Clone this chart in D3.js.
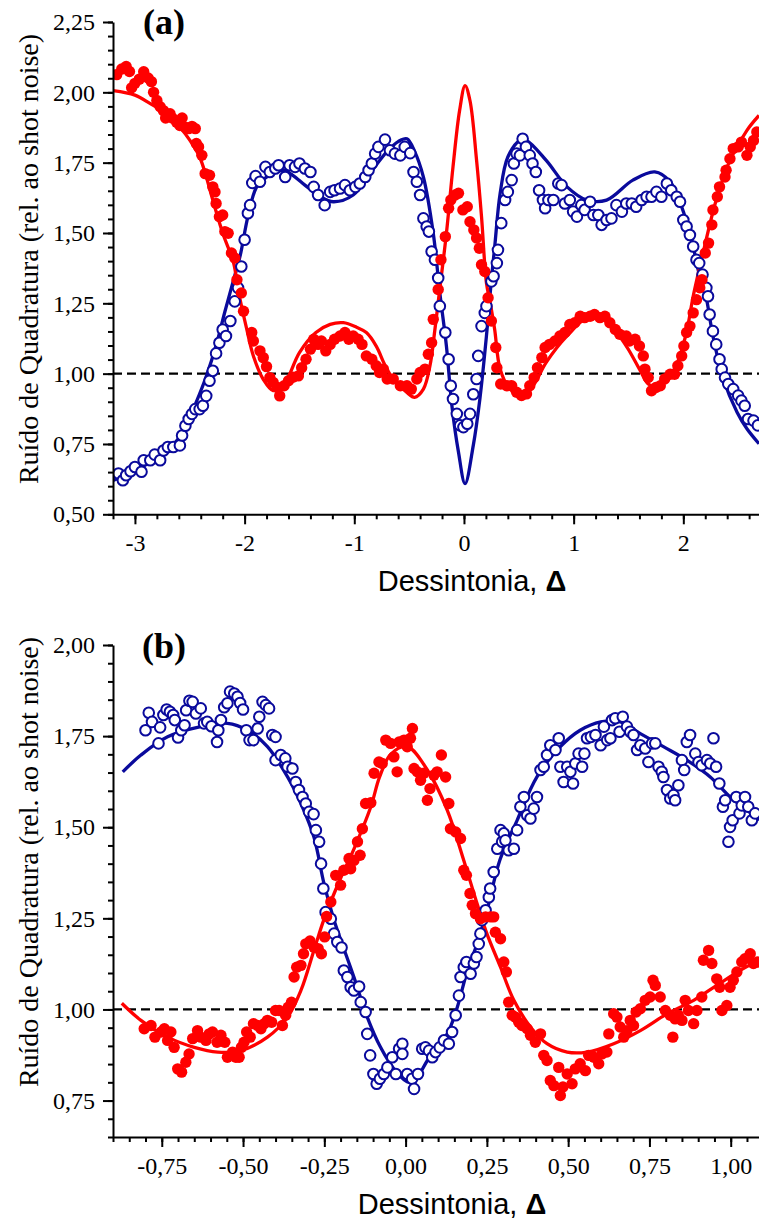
<!DOCTYPE html>
<html>
<head>
<meta charset="utf-8">
<script src="https://cdn.jsdelivr.net/npm/d3@7"></script>
<style>
  body { margin: 0; background: #fff; }
  svg { display: block; }
  .serif { font-family: "Liberation Serif", "Times New Roman", "DejaVu Serif", serif; }
  .sans { font-family: "Liberation Sans", Arial, "DejaVu Sans", sans-serif; }
</style>
</head>
<body>
<svg id="chart" width="759" height="1220"></svg>
<script>
// ---------- Panel (a): measured points [detuning, noise] ----------
const aRedPts = [
  [-3.166,2.063],[-3.12,2.083],[-3.08,2.092],[-3.05,2.074],[-3.03,2.016],[-3.00,2.032],[-2.96,2.047],[-2.92,2.073],
  [-2.88,2.051],[-2.85,2.038],[-2.83,2.0],[-2.80,1.971],[-2.77,1.949],[-2.74,1.935],[-2.72,1.909],[-2.68,1.924],
  [-2.66,1.909],[-2.62,1.894],[-2.59,1.882],[-2.57,1.909],[-2.54,1.876],[-2.51,1.871],[-2.48,1.879],[-2.45,1.871],
  [-2.44,1.818],[-2.42,1.806],[-2.39,1.776],[-2.36,1.711],[-2.32,1.705],[-2.29,1.664],[-2.27,1.646],[-2.26,1.605],
  [-2.23,1.558],[-2.20,1.564],[-2.18,1.505],[-2.15,1.499],[-2.12,1.429],[-2.09,1.411],[-2.07,1.334],[-2.03,1.287],
  [-2.01,1.222],[-1.935,1.146],[-1.92,1.116],[-1.86,1.081],[-1.83,1.057],[-1.80,1.025],[-1.77,0.986],[-1.74,0.969],
  [-1.70,0.951],[-1.68,0.921],[-1.64,0.957],[-1.60,0.975],[-1.56,0.987],[-1.51,0.992],[-1.48,1.021],[-1.44,1.051],
  [-1.40,1.087],[-1.37,1.122],[-1.33,1.104],[-1.30,1.116],[-1.26,1.081],[-1.22,1.104],[-1.18,1.122],[-1.13,1.134],
  [-1.085,1.146],[-1.05,1.122],[-1.01,1.134],[-0.965,1.122],[-0.93,1.104],[-0.89,1.063],[-0.84,1.051],[-0.80,1.028],
  [-0.77,1.004],[-0.735,1.016],[-0.70,0.981],[-0.645,0.981],[-0.58,0.957],[-0.52,0.957],[-0.48,0.945],[-0.43,0.981],
  [-0.40,1.004],[-0.355,1.016],[-0.325,1.069],[-0.295,1.110],[-0.28,1.193],[-0.235,1.299],[-0.21,1.405],[-0.17,1.487],
  [-0.14,1.588],[-0.12,1.617],[-0.08,1.635],[-0.05,1.641],[-0.01,1.582],[0.03,1.593],[0.055,1.540],[0.09,1.511],
  [0.115,1.482],[0.14,1.446],[0.16,1.387],[0.19,1.363],[0.22,1.270],[0.25,1.187],[0.29,1.093],[0.30,1.021],
  [0.335,0.963],[0.39,0.957],[0.435,0.957],[0.48,0.934],[0.525,0.922],[0.57,0.928],[0.60,0.957],[0.64,0.986],
  [0.67,1.021],[0.71,1.057],[0.74,1.093],[0.78,1.104],[0.83,1.116],[0.875,1.134],[0.92,1.146],[0.965,1.175],
  [1.01,1.181],[1.06,1.204],[1.10,1.199],[1.15,1.204],[1.19,1.21],[1.24,1.199],[1.285,1.204],[1.33,1.181],
  [1.38,1.157],[1.42,1.140],[1.48,1.134],[1.51,1.116],[1.56,1.122],[1.60,1.098],[1.635,1.063],[1.65,1.016],
  [1.68,0.986],[1.71,0.939],[1.75,0.951],[1.79,0.957],[1.83,0.981],[1.88,0.998],[1.92,0.998],[1.95,1.028],
  [1.985,1.063],[2.005,1.098],[2.03,1.146],[2.06,1.169],[2.09,1.216],[2.12,1.263],[2.15,1.305],[2.17,1.334],
  [2.20,1.429],[2.23,1.464],[2.26,1.529],[2.27,1.582],[2.31,1.629],[2.33,1.664],[2.38,1.699],[2.39,1.723],
  [2.425,1.764],[2.455,1.800],[2.50,1.806],[2.53,1.823],[2.58,1.776],[2.61,1.806],[2.64,1.829],[2.67,1.859]
];
const aBluePts = [
  [-3.15,0.645],[-3.11,0.621],[-3.08,0.639],[-3.04,0.653],[-3.00,0.668],[-2.94,0.651],[-2.92,0.692],[-2.86,0.692],
  [-2.82,0.712],[-2.77,0.692],[-2.74,0.727],[-2.70,0.739],[-2.65,0.739],[-2.59,0.745],[-2.57,0.780],[-2.54,0.815],
  [-2.51,0.839],[-2.48,0.857],[-2.45,0.874],[-2.41,0.874],[-2.38,0.886],[-2.35,0.921],[-2.32,0.975],[-2.29,1.010],
  [-2.26,1.072],[-2.23,1.110],[-2.20,1.157],[-2.17,1.134],[-2.13,1.187],[-2.09,1.257],[-2.06,1.305],[-2.03,1.381],
  [-2.00,1.476],[-1.97,1.570],[-1.95,1.599],[-1.93,1.678],[-1.90,1.702],[-1.86,1.682],[-1.81,1.735],[-1.77,1.717],
  [-1.72,1.729],[-1.69,1.741],[-1.63,1.699],[-1.59,1.741],[-1.54,1.735],[-1.50,1.747],[-1.45,1.729],[-1.40,1.717],
  [-1.37,1.664],[-1.33,1.635],[-1.27,1.599],[-1.22,1.646],[-1.18,1.652],[-1.13,1.658],[-1.085,1.670],[-1.04,1.652],
  [-0.99,1.664],[-0.95,1.676],[-0.90,1.699],[-0.87,1.723],[-0.84,1.747],[-0.81,1.782],[-0.78,1.806],[-0.72,1.832],
  [-0.675,1.794],[-0.63,1.782],[-0.58,1.776],[-0.54,1.806],[-0.49,1.784],[-0.46,1.717],[-0.43,1.682],[-0.40,1.635],
  [-0.37,1.552],[-0.34,1.523],[-0.32,1.505],[-0.295,1.434],[-0.265,1.405],[-0.235,1.340],[-0.22,1.240],[-0.17,1.146],
  [-0.14,1.051],[-0.12,0.957],[-0.10,0.910],[-0.065,0.857],[-0.035,0.816],[-0.005,0.810],[0.03,0.822],[0.055,0.857],
  [0.085,0.927],[0.115,0.981],[0.13,1.063],[0.16,1.169],[0.19,1.216],[0.205,1.240],[0.25,1.328],[0.27,1.346],
  [0.30,1.393],[0.31,1.440],[0.34,1.535],[0.375,1.617],[0.40,1.646],[0.435,1.688],[0.455,1.747],[0.48,1.782],
  [0.51,1.776],[0.535,1.835],[0.565,1.806],[0.60,1.776],[0.625,1.747],[0.655,1.717],[0.685,1.652],[0.72,1.617],
  [0.74,1.588],[0.77,1.617],[0.815,1.617],[0.86,1.676],[0.89,1.670],[0.92,1.605],[0.965,1.617],[0.995,1.576],
  [1.03,1.558],[1.07,1.599],[1.10,1.582],[1.15,1.611],[1.18,1.564],[1.225,1.564],[1.255,1.529],[1.30,1.546],
  [1.345,1.552],[1.39,1.599],[1.44,1.576],[1.48,1.605],[1.53,1.605],[1.57,1.593],[1.62,1.617],[1.665,1.629],
  [1.71,1.629],[1.755,1.646],[1.80,1.629],[1.85,1.676],[1.89,1.652],[1.94,1.629],[1.97,1.611],[2.00,1.546],
  [2.03,1.523],[2.06,1.493],[2.09,1.452],[2.12,1.405],[2.145,1.393],[2.175,1.352],[2.21,1.305],[2.225,1.275],
  [2.24,1.210],[2.27,1.151],[2.30,1.104],[2.33,1.051],[2.35,1.016],[2.38,0.986],[2.41,0.963],[2.455,0.945],
  [2.50,0.922],[2.53,0.904],[2.56,0.886],[2.59,0.839],[2.64,0.833],[2.68,0.816]
];
// Panel (a): theory curves
const aRedFit = [
  [-3.2,2.006],[-3.0,1.99],[-2.86,1.96],[-2.7,1.92],[-2.59,1.876],[-2.5,1.83],[-2.41,1.77],[-2.35,1.70],
  [-2.29,1.617],[-2.2,1.50],[-2.1,1.393],[-2.06,1.30],[-1.98,1.157],[-1.92,1.063],[-1.83,0.98],[-1.74,0.94],
  [-1.65,0.955],[-1.5,1.075],[-1.35,1.146],[-1.22,1.175],[-1.1,1.181],[-0.98,1.165],[-0.89,1.146],[-0.8,1.098],
  [-0.72,1.03],[-0.645,0.98],[-0.52,0.933],[-0.45,0.916],[-0.37,0.945],[-0.31,1.028],[-0.265,1.157],[-0.225,1.287],
  [-0.16,1.499],[-0.1,1.735],[-0.04,1.935],[0.01,2.024],[0.055,1.97],[0.115,1.758],[0.16,1.558],[0.205,1.322],
  [0.24,1.25],[0.28,1.157],[0.33,1.016],[0.42,0.945],[0.525,0.922],[0.63,0.957],[0.75,1.04],[0.94,1.134],
  [1.15,1.204],[1.30,1.187],[1.48,1.098],[1.60,1.016],[1.68,0.963],[1.75,0.955],[1.88,0.992],[1.97,1.063],
  [2.04,1.169],[2.09,1.275],[2.18,1.429],[2.30,1.617],[2.425,1.758],[2.58,1.865],[2.69,1.918]
];
const aBlueFit = [
  [-3.2,0.62],[-3.0,0.655],[-2.8,0.70],[-2.6,0.77],[-2.52,0.83],[-2.44,0.90],[-2.35,0.99],[-2.26,1.10],
  [-2.18,1.22],[-2.1,1.334],[-2.04,1.42],[-1.97,1.558],[-1.89,1.664],[-1.80,1.699],[-1.65,1.723],[-1.56,1.705],
  [-1.45,1.67],[-1.31,1.629],[-1.19,1.611],[-1.01,1.635],[-0.86,1.711],[-0.7,1.79],[-0.6,1.825],[-0.52,1.835],
  [-0.45,1.79],[-0.37,1.699],[-0.28,1.499],[-0.22,1.287],[-0.16,1.098],[-0.11,0.886],[-0.05,0.721],[0.01,0.609],
  [0.085,0.745],[0.145,0.91],[0.205,1.134],[0.25,1.334],[0.28,1.45],[0.33,1.641],[0.40,1.77],[0.51,1.829],
  [0.57,1.829],[0.75,1.758],[0.94,1.664],[1.12,1.617],[1.30,1.617],[1.54,1.688],[1.74,1.717],[1.88,1.682],
  [1.985,1.593],[2.075,1.476],[2.15,1.346],[2.20,1.287],[2.27,1.134],[2.365,0.981],[2.49,0.863],[2.58,0.804],
  [2.69,0.751]
];

// ---------- Panel (b): measured points ----------
const bRedPts = [
  [-0.804,0.947],[-0.783,0.956],[-0.771,0.924],[-0.752,0.938],[-0.742,0.947],[-0.732,0.915],[-0.722,0.938],[-0.712,0.896],
  [-0.701,0.837],[-0.689,0.828],[-0.676,0.855],[-0.666,0.878],[-0.655,0.92],[-0.64,0.942],[-0.63,0.924],[-0.614,0.915],
  [-0.604,0.933],[-0.594,0.938],[-0.58,0.91],[-0.568,0.929],[-0.556,0.91],[-0.548,0.869],[-0.532,0.883],[-0.522,0.869],
  [-0.512,0.869],[-0.505,0.896],[-0.497,0.91],[-0.489,0.938],[-0.478,0.924],[-0.468,0.961],[-0.455,0.956],[-0.445,0.947],
  [-0.435,0.961],[-0.425,0.97],[-0.412,0.965],[-0.40,0.997],[-0.389,0.997],[-0.379,0.956],[-0.369,0.984],[-0.361,1.006],
  [-0.351,1.02],[-0.343,1.089],[-0.335,1.116],[-0.322,1.121],[-0.314,1.153],[-0.307,1.18],[-0.294,1.188],[-0.282,1.171],
  [-0.269,1.167],[-0.259,1.153],[-0.249,1.199],[-0.243,1.255],[-0.23,1.295],[-0.215,1.368],[-0.20,1.341],[-0.19,1.382],
  [-0.174,1.414],[-0.169,1.386],[-0.159,1.409],[-0.148,1.46],[-0.14,1.423],[-0.133,1.496],[-0.123,1.565],[-0.107,1.567],
  [-0.097,1.648],[-0.082,1.679],[-0.072,1.675],[-0.061,1.739],[-0.046,1.73],[-0.036,1.693],[-0.026,1.652],[-0.02,1.734],
  [-0.005,1.739],[0.005,1.721],[0.015,1.744],[0.021,1.771],[0.026,1.661],[0.036,1.652],[0.046,1.629],[0.056,1.648],
  [0.067,1.574],[0.075,1.606],[0.087,1.643],[0.097,1.652],[0.11,1.698],[0.123,1.638],[0.133,1.565],[0.138,1.496],
  [0.154,1.487],[0.169,1.469],[0.179,1.382],[0.187,1.368],[0.198,1.318],[0.205,1.286],[0.215,1.263],[0.23,1.249],
  [0.246,1.254],[0.261,1.254],[0.271,1.254],[0.276,1.212],[0.292,1.194],[0.302,1.13],[0.31,1.103],[0.317,1.02],
  [0.328,0.984],[0.338,0.979],[0.348,0.965],[0.358,0.956],[0.374,0.947],[0.384,0.929],[0.399,0.91],[0.415,0.933],
  [0.425,0.874],[0.435,0.86],[0.445,0.805],[0.456,0.791],[0.471,0.841],[0.476,0.764],[0.484,0.787],[0.497,0.823],
  [0.512,0.796],[0.522,0.837],[0.537,0.851],[0.553,0.832],[0.563,0.874],[0.579,0.869],[0.594,0.851],[0.604,0.878],
  [0.619,0.883],[0.625,0.933],[0.64,0.988],[0.65,0.979],[0.66,0.952],[0.671,0.924],[0.681,0.942],[0.691,0.97],
  [0.701,0.956],[0.709,0.993],[0.722,1.002],[0.737,1.025],[0.752,1.034],[0.761,1.08],[0.768,1.066],[0.783,1.034],
  [0.799,0.997],[0.814,0.984],[0.822,0.924],[0.829,0.974],[0.839,0.984],[0.85,0.97],[0.86,1.025],[0.87,0.997],
  [0.886,0.961],[0.896,0.997],[0.911,1.034],[0.916,1.135],[0.932,1.162],[0.942,1.126],[0.957,1.084],[0.966,1.061],
  [0.973,0.997],[0.988,1.011],[0.998,1.061],[1.008,1.08],[1.019,1.103],[1.034,1.13],[1.044,1.139],[1.06,1.153],
  [1.07,1.126],[1.082,1.13]
];
const bBluePts = [
  [-0.80,1.766],[-0.79,1.814],[-0.78,1.789],[-0.76,1.730],[-0.755,1.774],[-0.745,1.808],[-0.735,1.823],[-0.725,1.817],
  [-0.715,1.808],[-0.71,1.794],[-0.70,1.746],[-0.69,1.766],[-0.68,1.780],[-0.675,1.821],[-0.665,1.847],[-0.655,1.844],
  [-0.645,1.812],[-0.63,1.826],[-0.62,1.785],[-0.61,1.789],[-0.597,1.777],[-0.58,1.734],[-0.576,1.766],[-0.568,1.794],
  [-0.558,1.829],[-0.548,1.840],[-0.54,1.872],[-0.527,1.867],[-0.517,1.858],[-0.509,1.841],[-0.50,1.823],[-0.49,1.766],
  [-0.48,1.739],[-0.468,1.739],[-0.455,1.771],[-0.45,1.803],[-0.44,1.844],[-0.43,1.835],[-0.42,1.826],[-0.41,1.753],
  [-0.40,1.748],[-0.40,1.684],[-0.384,1.698],[-0.37,1.689],[-0.363,1.666],[-0.348,1.661],[-0.338,1.624],[-0.328,1.602],
  [-0.317,1.583],[-0.307,1.565],[-0.297,1.542],[-0.283,1.536],[-0.276,1.492],[-0.266,1.460],[-0.26,1.400],[-0.253,1.332],
  [-0.246,1.267],[-0.23,1.249],[-0.22,1.208],[-0.21,1.185],[-0.197,1.17],[-0.19,1.107],[-0.179,1.089],[-0.169,1.061],
  [-0.159,1.052],[-0.143,1.063],[-0.138,1.02],[-0.123,0.993],[-0.118,0.933],[-0.109,0.874],[-0.099,0.823],[-0.089,0.796],
  [-0.079,0.81],[-0.067,0.823],[-0.056,0.841],[-0.041,0.869],[-0.03,0.823],[-0.02,0.892],[-0.01,0.906],[-0.01,0.878],
  [0.005,0.823],[0.02,0.81],[0.026,0.782],[0.038,0.823],[0.051,0.892],[0.061,0.896],[0.072,0.887],[0.082,0.869],
  [0.092,0.883],[0.105,0.896],[0.118,0.915],[0.133,0.906],[0.143,0.938],[0.154,0.984],[0.164,1.038],[0.169,1.089],
  [0.179,1.116],[0.187,1.13],[0.20,1.098],[0.21,1.126],[0.218,1.144],[0.225,1.18],[0.23,1.208],[0.235,1.245],
  [0.246,1.272],[0.256,1.308],[0.26,1.332],[0.271,1.377],[0.282,1.441],[0.292,1.492],[0.297,1.46],[0.302,1.483],
  [0.307,1.464],[0.317,1.437],[0.333,1.441],[0.343,1.492],[0.353,1.556],[0.364,1.583],[0.374,1.533],[0.384,1.524],
  [0.394,1.551],[0.404,1.583],[0.415,1.657],[0.425,1.666],[0.435,1.698],[0.445,1.725],[0.461,1.712],[0.471,1.744],
  [0.476,1.666],[0.486,1.624],[0.497,1.666],[0.507,1.652],[0.515,1.62],[0.522,1.675],[0.532,1.702],[0.543,1.666],
  [0.55,1.702],[0.558,1.744],[0.57,1.748],[0.584,1.753],[0.60,1.725],[0.61,1.776],[0.62,1.739],[0.63,1.744],
  [0.635,1.794],[0.645,1.799],[0.658,1.762],[0.668,1.803],[0.681,1.776],[0.691,1.762],[0.701,1.753],[0.712,1.712],
  [0.722,1.725],[0.737,1.716],[0.747,1.679],[0.758,1.73],[0.768,1.73],[0.778,1.666],[0.788,1.652],[0.793,1.638],
  [0.804,1.602],[0.814,1.579],[0.824,1.588],[0.829,1.574],[0.839,1.615],[0.85,1.684],[0.857,1.657],[0.865,1.734],
  [0.875,1.753],[0.891,1.702],[0.901,1.679],[0.911,1.67],[0.927,1.684],[0.937,1.675],[0.947,1.744],[0.955,1.666],
  [0.965,1.62],[0.976,1.556],[0.983,1.574],[0.993,1.46],[0.998,1.501],[1.006,1.519],[1.017,1.583],[1.027,1.538],
  [1.034,1.56],[1.044,1.583],[1.054,1.556],[1.065,1.519],[1.075,1.538]
];
// Panel (b): theory curves
const bRedFit = [
  [-0.873,1.017],[-0.814,0.97],[-0.732,0.924],[-0.65,0.896],[-0.578,0.883],[-0.507,0.887],[-0.425,0.924],[-0.363,0.979],
  [-0.322,1.052],[-0.282,1.162],[-0.25,1.25],[-0.2,1.36],[-0.159,1.44],[-0.107,1.556],[-0.08,1.638],[-0.046,1.70],
  [0.005,1.721],[0.067,1.657],[0.128,1.547],[0.179,1.409],[0.22,1.29],[0.25,1.208],[0.292,1.116],[0.333,1.025],
  [0.384,0.952],[0.435,0.906],[0.497,0.883],[0.558,0.883],[0.64,0.906],[0.722,0.942],[0.804,0.988],[0.886,1.025],
  [0.957,1.066],[1.029,1.107],[1.087,1.135]
];
const bBlueFit = [
  [-0.87,1.652],[-0.814,1.698],[-0.732,1.748],[-0.63,1.776],[-0.548,1.785],[-0.486,1.766],[-0.425,1.721],[-0.363,1.638],
  [-0.322,1.565],[-0.282,1.473],[-0.251,1.345],[-0.22,1.245],[-0.159,1.089],[-0.118,0.979],[-0.077,0.896],[-0.03,0.83],
  [0.01,0.80],[0.04,0.82],[0.067,0.86],[0.128,0.933],[0.159,1.006],[0.19,1.107],[0.22,1.18],[0.25,1.27],
  [0.29,1.41],[0.343,1.519],[0.404,1.638],[0.476,1.721],[0.537,1.766],[0.60,1.789],[0.66,1.789],[0.722,1.757],
  [0.793,1.721],[0.865,1.684],[0.937,1.638],[0.998,1.583],[1.05,1.547],[1.087,1.519]
];

// ---------- Tick values ----------
const aXTicks = [-3, -2, -1, 0, 1, 2];
const aYTicks = [0.5, 0.75, 1.0, 1.25, 1.5, 1.75, 2.0, 2.25];
const bXTicks = [-0.75, -0.5, -0.25, 0, 0.25, 0.5, 0.75, 1.0];
const bYTicks = [0.75, 1.0, 1.25, 1.5, 1.75, 2.0];
const aXMinor = d3.range(-16, 14).map(i => +(i * 0.2).toFixed(2));
const aYMinor = d3.range(10, 46).map(i => +(i * 0.05).toFixed(2));
const bXMinor = d3.range(-18, 22).map(i => +(i * 0.05).toFixed(2));
const bYMinor = d3.range(13, 41).map(i => +(i * 0.05).toFixed(2));

const RED = "#ff0000";
const BLUE = "#0a0a9c";
const svg = d3.select("#chart");
const commaFmt = d => d.toFixed(2).replace(".", ",");

function drawPanel(cfg) {
  const x = d3.scaleLinear().domain(cfg.xDomain).range([cfg.left, cfg.right]);
  const y = d3.scaleLinear().domain(cfg.yDomain).range([cfg.bottom, cfg.top]);
  const g = svg.append("g");

  const clipId = "clip-" + cfg.id;
  svg.append("clipPath").attr("id", clipId)
    .append("rect")
    .attr("x", cfg.left).attr("y", cfg.top - 20)
    .attr("width", cfg.right - cfg.left).attr("height", cfg.bottom - cfg.top + 20);

  const plot = g.append("g").attr("clip-path", `url(#${clipId})`);

  // reference level: shot noise = 1
  plot.append("line")
    .attr("x1", cfg.left).attr("x2", cfg.right)
    .attr("y1", y(1)).attr("y2", y(1))
    .attr("stroke", "#000").attr("stroke-width", 2.2)
    .attr("stroke-dasharray", "9,5");

  const line = d3.line()
    .x(d => x(d[0])).y(d => y(d[1]))
    .curve(d3.curveCatmullRom.alpha(0.5));

  plot.append("path").datum(cfg.blueFit)
    .attr("d", line).attr("fill", "none")
    .attr("stroke", BLUE).attr("stroke-width", 3.3);
  plot.append("path").datum(cfg.redFit)
    .attr("d", line).attr("fill", "none")
    .attr("stroke", RED).attr("stroke-width", 3.3);

  plot.append("g").selectAll("circle").data(cfg.bluePts).join("circle")
    .attr("cx", d => x(d[0])).attr("cy", d => y(d[1])).attr("r", 5.3)
    .attr("fill", "#fff").attr("stroke", BLUE).attr("stroke-width", 2);
  plot.append("g").selectAll("circle").data(cfg.redPts).join("circle")
    .attr("cx", d => x(d[0])).attr("cy", d => y(d[1])).attr("r", 5.7)
    .attr("fill", RED);

  // minor ticks
  g.append("g").attr("transform", `translate(0,${cfg.bottom})`)
    .call(d3.axisBottom(x).tickValues(cfg.xMinor).tickSize(5).tickFormat(""))
    .call(s => s.select(".domain").remove())
    .call(s => s.selectAll("line").attr("stroke-width", 2));
  g.append("g").attr("transform", `translate(${cfg.left},0)`)
    .call(d3.axisLeft(y).tickValues(cfg.yMinor).tickSize(5).tickFormat(""))
    .call(s => s.select(".domain").remove())
    .call(s => s.selectAll("line").attr("stroke-width", 2));

  // major ticks with labels
  const xAxis = g.append("g").attr("transform", `translate(0,${cfg.bottom})`)
    .call(d3.axisBottom(x).tickValues(cfg.xTicks).tickSize(10).tickSizeOuter(0)
      .tickPadding(10).tickFormat(cfg.xFmt));
  xAxis.selectAll("line").attr("stroke-width", 2);
  xAxis.select(".domain").attr("stroke-width", 2);
  xAxis.selectAll("text").attr("class", "serif")
    .attr("font-size", 24).attr("fill", "#000");

  const yAxis = g.append("g").attr("transform", `translate(${cfg.left},0)`)
    .call(d3.axisLeft(y).tickValues(cfg.yTicks).tickSize(10).tickSizeOuter(0)
      .tickPadding(8).tickFormat(commaFmt));
  yAxis.selectAll("line").attr("stroke-width", 2);
  yAxis.select(".domain").attr("stroke-width", 2);
  yAxis.selectAll("text").attr("class", "serif")
    .attr("font-size", 24).attr("fill", "#000");

  // axis titles
  const xt = g.append("text").attr("class", "sans")
    .attr("x", cfg.xLabelX).attr("y", cfg.bottom + 77)
    .attr("text-anchor", "middle")
    .attr("font-size", 29).attr("fill", "#000");
  xt.append("tspan").text("Dessintonia, ");
  xt.append("tspan").attr("font-weight", "bold").text("Δ");

  g.append("text").attr("class", "serif")
    .attr("transform", `translate(38,${cfg.yLabelY}) rotate(-90)`)
    .attr("text-anchor", "middle")
    .attr("font-size", 28).attr("fill", "#000")
    .text("Ruído de Quadratura (rel. ao shot noise)");

  g.append("text").attr("class", "serif")
    .attr("x", 164).attr("y", cfg.tagY)
    .attr("text-anchor", "middle")
    .attr("font-weight", "bold").attr("font-size", 36).attr("fill", "#000")
    .text(cfg.tag);
}

drawPanel({
  id: "a", left: 113, right: 759, top: 22, bottom: 514.3,
  xDomain: [-3.2, 2.69], yDomain: [0.5, 2.25],
  xTicks: aXTicks, yTicks: aYTicks, xMinor: aXMinor, yMinor: aYMinor,
  xFmt: d => String(d),
  redPts: aRedPts, bluePts: aBluePts, redFit: aRedFit, blueFit: aBlueFit,
  xLabelX: 472, yLabelY: 259, tag: "(a)", tagY: 34
});

drawPanel({
  id: "b", left: 113, right: 759, top: 645, bottom: 1137,
  xDomain: [-0.9, 1.087], yDomain: [0.65, 2.0],
  xTicks: bXTicks, yTicks: bYTicks, xMinor: bXMinor, yMinor: bYMinor,
  xFmt: commaFmt,
  redPts: bRedPts, bluePts: bBluePts, redFit: bRedFit, blueFit: bBlueFit,
  xLabelX: 452, yLabelY: 862, tag: "(b)", tagY: 658
});
</script>
</body>
</html>
